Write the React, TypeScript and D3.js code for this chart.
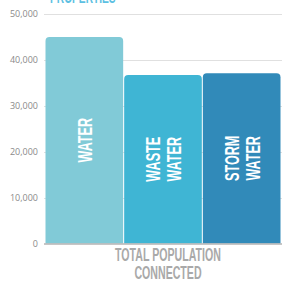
import React, { useEffect, useRef } from 'react';
import * as d3 from 'd3';

// data
const categories = ['TOTAL POPULATION CONNECTED'];
const categoryLines = [['TOTAL POPULATION', 'CONNECTED']];
const seriesNames = ['WATER', 'WASTE WATER', 'STORM WATER'];
const seriesLines = [['WATER'], ['WASTE', 'WATER'], ['STORM', 'WATER']];
const seriesValues = [45000, 36700, 37100];
const seriesColors = ['#81cad7', '#3fb5d4', '#318ab9'];
const yTicks = [0, 10000, 20000, 30000, 40000, 50000];
const titleText = 'PROPERTIES';

function BarChart({ width = 282, height = 282 }) {
  const svgRef = useRef<SVGSVGElement>(null);

  useEffect(() => {
    const svg = d3.select(svgRef.current);
    svg.selectAll('*').remove();

    const left = 45;
    const right = 281;
    const top = 14;
    const bottom = 243.5;
    const condense = 0.6;
    const font = '"Liberation Sans", Arial, sans-serif';

    const y = d3.scaleLinear().domain([0, 50000]).range([bottom, top]);
    const x0 = d3.scaleBand().domain(categories).range([left, right]).padding(0);
    const x1 = d3.scaleBand().domain(seriesNames).range([0, x0.bandwidth()]).padding(0);

    // title (mostly cropped at the top)
    svg.append('text')
      .attr('transform', `translate(50,3) scale(${condense},1)`)
      .attr('font-family', font)
      .attr('font-weight', 700)
      .attr('font-size', 17)
      .attr('fill', '#5cbfe2')
      .text(titleText);

    // gridlines
    svg.append('g')
      .selectAll('line')
      .data(yTicks.filter(d => d > 0))
      .enter()
      .append('line')
      .attr('x1', left - 1)
      .attr('x2', width)
      .attr('y1', d => Math.round(y(d)) + 0.5)
      .attr('y2', d => Math.round(y(d)) + 0.5)
      .attr('stroke', '#e0e0e0')
      .attr('stroke-width', 1);

    // y labels
    svg.append('g')
      .selectAll('text')
      .data(yTicks)
      .enter()
      .append('text')
      .attr('x', 38)
      .attr('y', d => y(d))
      .attr('dy', '0.35em')
      .attr('text-anchor', 'end')
      .attr('font-family', '"Open Sans", sans-serif')
      .attr('font-size', 9)
      .attr('fill', '#8a8a8a')
      .text(d => d3.format(',')(d));

    const r = 4;
    const roundTop = (x: number, yTop: number, w: number, h: number) => {
      const p = d3.path();
      p.moveTo(x, yTop + h);
      p.lineTo(x, yTop + r);
      p.arcTo(x, yTop, x + r, yTop, r);
      p.lineTo(x + w - r, yTop);
      p.arcTo(x + w, yTop, x + w, yTop + r, r);
      p.lineTo(x + w, yTop + h);
      p.closePath();
      return p.toString();
    };

    const groups = svg.append('g')
      .selectAll('g')
      .data(categories)
      .enter()
      .append('g')
      .attr('transform', d => `translate(${x0(d)},0)`);

    const bars = groups.selectAll('g.bar')
      .data(seriesNames.map((name, i) => ({ name, value: seriesValues[i], color: seriesColors[i], lines: seriesLines[i] })))
      .enter()
      .append('g')
      .attr('class', 'bar');

    bars.append('path')
      .attr('d', d => roundTop(x1(d.name)! + 0.5, y(d.value), x1.bandwidth() - 1, bottom - y(d.value)))
      .attr('fill', d => d.color);

    // rotated labels inside bars
    bars.each(function (d) {
      const cx = x1(d.name)! + x1.bandwidth() / 2;
      const cy = (y(d.value) + bottom) / 2;
      const lineGap = 20.7;
      const t = d3.select(this).append('text')
        .attr('transform', `translate(${cx},${cy}) rotate(-90) scale(${condense},1)`)
        .attr('text-anchor', 'middle')
        .attr('font-family', font)
        .attr('font-weight', 700)
        .attr('font-size', 21)
        .attr('fill', '#ffffff');
      d.lines.forEach((line, i) => {
        const off = (i - (d.lines.length - 1) / 2) * lineGap;
        t.append('tspan')
          .attr('x', 0)
          .attr('y', off)
          .attr('dy', '0.36em')
          .text(line);
      });
    });

    // baseline
    svg.append('line')
      .attr('x1', left - 1)
      .attr('x2', width)
      .attr('y1', bottom + 0.5)
      .attr('y2', bottom + 0.5)
      .attr('stroke', '#b3b3b3')
      .attr('stroke-width', 1.5);

    // category label
    categories.forEach((c, ci) => {
      const cx = x0(c)! + x0.bandwidth() / 2 + 5;
      categoryLines[ci].forEach((line, i) => {
        svg.append('text')
          .attr('transform', `translate(${cx},${261 + i * 18.3}) scale(${condense},1)`)
          .attr('text-anchor', 'middle')
          .attr('font-family', font)
          .attr('font-weight', 700)
          .attr('font-size', 17.7)
          .attr('fill', '#a9a9a9')
          .text(line);
      });
    });
  }, [width, height]);

  return (
    <svg
      ref={svgRef}
      width={width}
      height={height}
      style={{ position: 'absolute', left: 0, top: 0, background: '#fff' }}
    />
  );
}

export default function App() {
  return <BarChart />;
}
